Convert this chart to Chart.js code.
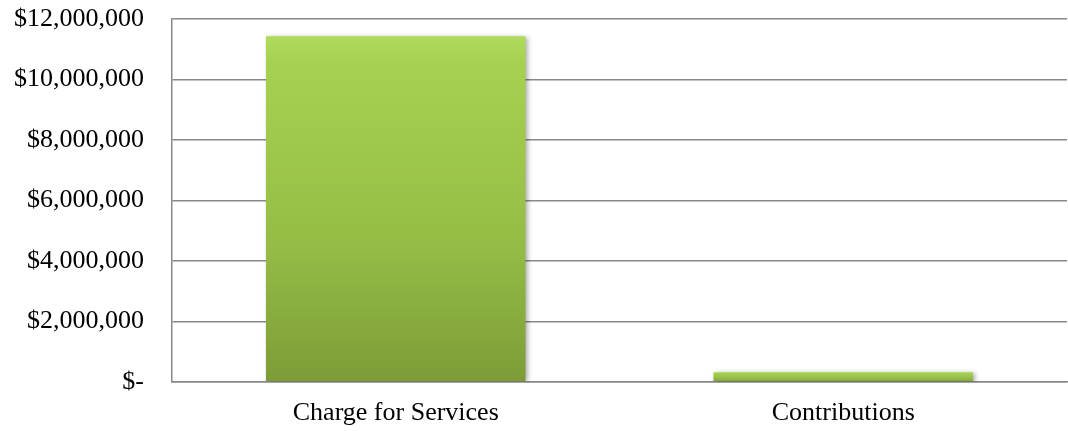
<!DOCTYPE html>
<html>
<head>
<meta charset="utf-8">
<script src="https://cdn.jsdelivr.net/npm/chart.js@4"></script>
<style>
  html, body { margin: 0; padding: 0; background: #fff; }
  #wrap { width: 1068px; height: 431px; }
</style>
</head>
<body>
<div id="wrap"><canvas id="chart"></canvas></div>
<script>
// data
const categories = ['Charge for Services', 'Contributions'];
const amounts = [11430000, 320000];
const yMin = 0;
const yMax = 12000000;
const yStep = 2000000;

function fmtMoney(v) {
    if (v === 0) return '$-';
    return '$' + v.toLocaleString('en-US');
}

// green bevel-ish gradient for each bar, light on top, darker at the base
function barFill(ctx) {
    const chart = ctx.chart;
    const y = chart.scales.y;
    if (!chart.chartArea || !y || ctx.raw == null) return '#98c34a';
    const top = y.getPixelForValue(ctx.raw);
    const bottom = y.getPixelForValue(0);
    const g = chart.ctx.createLinearGradient(0, top, 0, bottom);
    g.addColorStop(0, '#b0da5a');
    g.addColorStop(0.08, '#a6d150');
    g.addColorStop(0.6, '#95bd46');
    g.addColorStop(1, '#7d9c37');
    return g;
}

const shadowPlugin = {
    id: 'barShadow',
    beforeDatasetsDraw(chart) {
        const c = chart.ctx;
        c.save();
        c.shadowColor = 'rgba(0,0,0,0.35)';
        c.shadowBlur = 5;
        c.shadowOffsetX = 2;
        c.shadowOffsetY = 1;
    },
    afterDatasetsDraw(chart) {
        chart.ctx.restore();
    }
};

const serif = '"Liberation Serif", "Times New Roman", serif';

new Chart(document.getElementById('chart'), {
    type: 'bar',
    data: {
        labels: categories,
        datasets: [{
            data: amounts,
            backgroundColor: barFill,
            borderWidth: 0,
            categoryPercentage: 1,
            barPercentage: 0.58
        }]
    },
    plugins: [shadowPlugin],
    options: {
        responsive: true,
        maintainAspectRatio: false,
        animation: false,
        layout: { padding: { top: 19, right: 1, left: 0, bottom: 0 } },
        plugins: {
            legend: { display: false },
            tooltip: { enabled: false }
        },
        scales: {
            y: {
                min: yMin,
                max: yMax,
                ticks: {
                    stepSize: yStep,
                    padding: 28,
                    color: '#000',
                    font: { family: serif, size: 26 },
                    callback: v => fmtMoney(v)
                },
                grid: { color: '#888', lineWidth: 1.5, drawTicks: false },
                border: { color: '#888', width: 1.5 },
                afterFit: s => { s.width = 172; s.paddingTop = 0; s.paddingBottom = 0; }
            },
            x: {
                ticks: {
                    padding: 16,
                    color: '#000',
                    font: { family: serif, size: 26 }
                },
                grid: { display: false, drawTicks: false },
                border: { color: '#888', width: 1.5 },
                afterFit: s => { s.height = 49; s.paddingLeft = 0; s.paddingRight = 0; }
            }
        }
    }
});
</script>
</body>
</html>
